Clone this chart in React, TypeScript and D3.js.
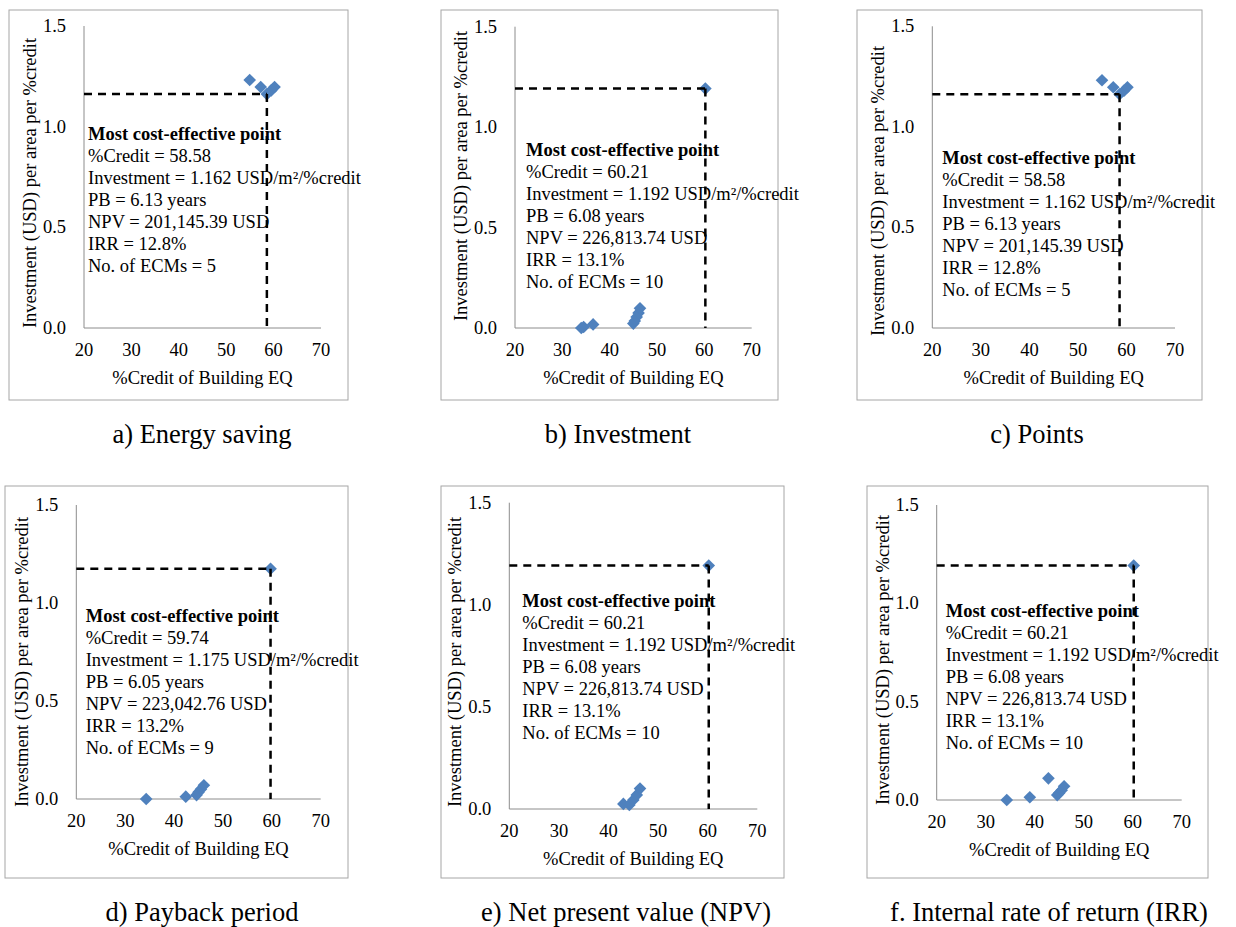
import { scaleLinear, symbol, symbolSquare, format } from 'd3';

// categories (panel captions)
const captions = [
  'a) Energy saving',
  'b) Investment',
  'c) Points',
  'd) Payback period',
  'e) Net present value (NPV)',
  'f. Internal rate of return (IRR)',
];

const xTicks = [20, 30, 40, 50, 60, 70];
const yTicks = [0, 0.5, 1.0, 1.5];
const xTitle = '%Credit of Building EQ';
const yTitle = 'Investment (USD) per area per %credit';

// [%credit, investment per area per %credit]
const ptsEnergy = [[54.96, 1.232], [57.28, 1.197], [58.58, 1.162], [59.5, 1.18], [60.2, 1.197]];
const ptsInvestment = [[34.0, 0.0], [34.5, 0.005], [36.5, 0.018], [45.0, 0.022], [45.3, 0.035], [45.7, 0.055], [46.1, 0.075], [46.4, 0.098], [60.21, 1.192]];
const ptsPoints = [[54.96, 1.232], [57.28, 1.197], [58.58, 1.162], [59.5, 1.18], [60.2, 1.197]];
const ptsPayback = [[34.3, 0.0], [42.4, 0.012], [44.6, 0.02], [45.0, 0.035], [45.5, 0.05], [46.1, 0.07], [59.74, 1.175]];
const ptsNpv = [[43.0, 0.025], [44.2, 0.02], [45.0, 0.044], [45.7, 0.069], [46.35, 0.1], [60.21, 1.192]];
const ptsIrr = [[34.3, 0.0], [39.0, 0.014], [42.8, 0.11], [44.6, 0.025], [45.0, 0.035], [45.5, 0.05], [46.0, 0.07], [60.21, 1.192]];

// most cost-effective point per panel
const bestCredit = [58.58, 60.21, 58.58, 59.74, 60.21, 60.21];
const bestInvest = [1.162, 1.192, 1.162, 1.175, 1.192, 1.192];
const bestPB = ['6.13', '6.08', '6.13', '6.05', '6.08', '6.08'];
const bestNPV = ['201,145.39', '226,813.74', '201,145.39', '223,042.76', '226,813.74', '226,813.74'];
const bestIRR = ['12.8%', '13.1%', '12.8%', '13.2%', '13.1%', '13.1%'];
const bestECMs = [5, 10, 5, 9, 10, 10];

const allPoints = [ptsEnergy, ptsInvestment, ptsPoints, ptsPayback, ptsNpv, ptsIrr];

// page layout of each panel (pixels)
const layout = [
  { box: [9, 10, 348, 400], plot: [84, 321, 26, 328], note: [88, 134], yTitleY: 183, cap: [202, 443] },
  { box: [441, 10, 778, 400], plot: [515, 751.7, 26.7, 328], note: [526, 150], yTitleY: 176, cap: [618, 443] },
  { box: [857, 10, 1202, 400], plot: [932.3, 1175, 26.3, 328], note: [942.3, 158], yTitleY: 191, cap: [1037, 443] },
  { box: [5, 486, 348, 878], plot: [76.3, 320.7, 505, 799], note: [85.7, 616], yTitleY: 662, cap: [202, 921] },
  { box: [441, 486, 784, 878], plot: [509.3, 757.3, 502.7, 809], note: [522.3, 600.7], yTitleY: 662, cap: [626, 921] },
  { box: [867, 486, 1208, 878], plot: [936.7, 1181.7, 505, 800], note: [945.7, 610.7], yTitleY: 660, cap: [1049, 921] },
];

const FONT = '"Liberation Serif", "Times New Roman", serif';
const BLUE = '#4f81bd';
const fmt1 = format('.1f');
const diamond = symbol(symbolSquare, 80)();

function Panel({ i }: { i: number }) {
  const L = layout[i];
  const [bx0, by0, bx1, by1] = L.box;
  const [left, right, top, bottom] = L.plot;
  const x = scaleLinear().domain([20, 70]).range([left, right]);
  const y = scaleLinear().domain([0, 1.5]).range([bottom, top]);
  const lines = [
    `%Credit = ${bestCredit[i].toFixed(2)}`,
    `Investment = ${bestInvest[i].toFixed(3)} USD/m²/%credit`,
    `PB = ${bestPB[i]} years`,
    `NPV = ${bestNPV[i]} USD`,
    `IRR = ${bestIRR[i]}`,
    `No. of ECMs = ${bestECMs[i]}`,
  ];
  const bx = x(bestCredit[i]);
  const byy = y(bestInvest[i]);
  return (
    <g fontFamily={FONT} fill="#000">
      <rect x={bx0} y={by0} width={bx1 - bx0} height={by1 - by0} fill="#fff" stroke="#a6a6a6" strokeWidth={1} />
      {/* axes */}
      <line x1={left} x2={left} y1={y(1.5)} y2={y(0)} stroke="#8c8c8c" strokeWidth={1} />
      <line x1={x(20)} x2={x(70)} y1={y(0)} y2={y(0)} stroke="#8c8c8c" strokeWidth={1} />
      {yTicks.map((t) => (
        <text key={t} x={left - 18} y={y(t)} textAnchor="end" dominantBaseline="central" fontSize={18.5}>
          {fmt1(t)}
        </text>
      ))}
      {xTicks.map((t) => (
        <text key={t} x={x(t)} y={bottom + 22} textAnchor="middle" dominantBaseline="central" fontSize={18.5}>
          {t}
        </text>
      ))}
      <text x={(left + right) / 2} y={bottom + 50} textAnchor="middle" dominantBaseline="central" fontSize={18.5}>
        {xTitle}
      </text>
      <text
        transform={`translate(${left - 54},${L.yTitleY}) rotate(-90)`}
        textAnchor="middle"
        dominantBaseline="central"
        fontSize={18.5}
      >
        {yTitle}
      </text>
      {/* annotation */}
      <text x={L.note[0]} y={L.note[1]} dominantBaseline="central" fontSize={18.5} fontWeight="bold">
        Most cost-effective point
      </text>
      {lines.map((s, k) => (
        <text key={k} x={L.note[0]} y={L.note[1] + 22 * (k + 1)} dominantBaseline="central" fontSize={18.5}>
          {s}
        </text>
      ))}
      {/* points */}
      {allPoints[i].map((p, k) => (
        <path key={k} d={diamond} transform={`translate(${x(p[0])},${y(p[1])}) rotate(45)`} fill={BLUE} />
      ))}
      {/* guide lines */}
      <line x1={left} x2={bx} y1={byy} y2={byy} stroke="#000" strokeWidth={2.5} strokeDasharray="8,6" />
      <line x1={bx} x2={bx} y1={byy} y2={bottom} stroke="#000" strokeWidth={2.5} strokeDasharray="8,6" />
      <text x={L.cap[0]} y={L.cap[1]} textAnchor="middle" fontSize={26.5}>
        {captions[i]}
      </text>
    </g>
  );
}

export default function App() {
  return (
    <svg width={1236} height={927} style={{ position: 'absolute', left: 0, top: 0, background: '#fff' }}>
      <rect width={1236} height={927} fill="#fff" />
      {captions.map((_, i) => (
        <Panel key={i} i={i} />
      ))}
    </svg>
  );
}
